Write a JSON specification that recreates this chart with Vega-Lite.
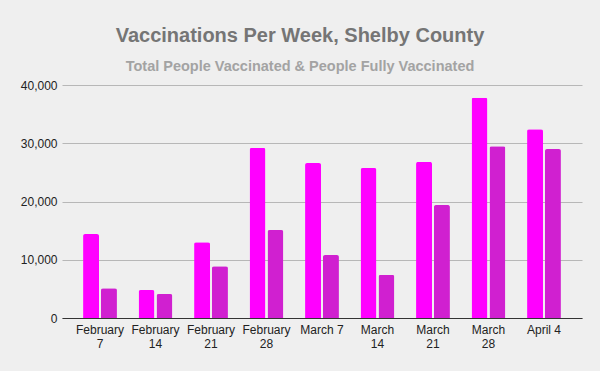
{
  "$schema": "https://vega.github.io/schema/vega-lite/v6.json",
  "width": 520,
  "height": 233,
  "autosize": "none",
  "padding": {"left": 62, "top": 85, "right": 18, "bottom": 53},
  "background": "#efefef",
  "title": {
    "text": "Vaccinations Per Week, Shelby County",
    "subtitle": "Total People Vaccinated & People Fully Vaccinated",
    "font": "Liberation Sans",
    "fontSize": 20,
    "fontWeight": "bold",
    "color": "#757575",
    "subtitleFont": "Liberation Sans",
    "subtitleFontSize": 14.5,
    "subtitleFontWeight": "bold",
    "subtitleColor": "#a3a3a3",
    "subtitlePadding": 14,
    "anchor": "middle",
    "dx": -22,
    "offset": 6
  },
  "config": {
    "view": {"stroke": null},
    "font": "Liberation Sans"
  },
  "data": {
    "values": [
      {"week": "February 7", "series": "Total People Vaccinated", "value": 14400},
      {"week": "February 7", "series": "People Fully Vaccinated", "value": 5100},
      {"week": "February 14", "series": "Total People Vaccinated", "value": 4800},
      {"week": "February 14", "series": "People Fully Vaccinated", "value": 4100},
      {"week": "February 21", "series": "Total People Vaccinated", "value": 13000},
      {"week": "February 21", "series": "People Fully Vaccinated", "value": 8900},
      {"week": "February 28", "series": "Total People Vaccinated", "value": 29200},
      {"week": "February 28", "series": "People Fully Vaccinated", "value": 15100},
      {"week": "March 7", "series": "Total People Vaccinated", "value": 26600},
      {"week": "March 7", "series": "People Fully Vaccinated", "value": 10800},
      {"week": "March 14", "series": "Total People Vaccinated", "value": 25750},
      {"week": "March 14", "series": "People Fully Vaccinated", "value": 7400},
      {"week": "March 21", "series": "Total People Vaccinated", "value": 26800},
      {"week": "March 21", "series": "People Fully Vaccinated", "value": 19400},
      {"week": "March 28", "series": "Total People Vaccinated", "value": 37800},
      {"week": "March 28", "series": "People Fully Vaccinated", "value": 29500},
      {"week": "April 4", "series": "Total People Vaccinated", "value": 32400},
      {"week": "April 4", "series": "People Fully Vaccinated", "value": 29000}
    ]
  },
  "mark": {"type": "bar", "cornerRadiusTopLeft": 2, "cornerRadiusTopRight": 2},
  "encoding": {
    "x": {
      "field": "week",
      "type": "nominal",
      "sort": null,
      "title": null,
      "scale": {"paddingInner": 0.39, "paddingOuter": 0.38},
      "axis": {
        "labelAngle": 0,
        "labelFontSize": 12,
        "labelColor": "#222222",
        "labelFont": "Liberation Sans",
        "labelLineHeight": 14.5,
        "labelPadding": 6,
        "ticks": false,
        "domainColor": "#333333",
        "domainWidth": 1,
        "labelExpr": "(datum.label == 'March 7' || datum.label == 'April 4') ? datum.label : split(datum.label, ' ')"
      }
    },
    "xOffset": {
      "field": "series",
      "type": "nominal",
      "sort": ["Total People Vaccinated", "People Fully Vaccinated"],
      "scale": {"paddingInner": 0.11}
    },
    "y": {
      "field": "value",
      "type": "quantitative",
      "title": null,
      "scale": {"domain": [0, 40000], "nice": false},
      "axis": {
        "values": [0, 10000, 20000, 30000, 40000],
        "format": ",.0f",
        "labelFontSize": 12,
        "labelColor": "#222222",
        "labelFont": "Liberation Sans",
        "labelPadding": 5,
        "ticks": false,
        "domain": false,
        "gridColor": "#b7b7b7",
        "gridWidth": 1
      }
    },
    "color": {
      "field": "series",
      "type": "nominal",
      "sort": ["Total People Vaccinated", "People Fully Vaccinated"],
      "scale": {"domain": ["Total People Vaccinated", "People Fully Vaccinated"], "range": ["#ff00ff", "#d020d0"]},
      "legend": null
    }
  }
}
